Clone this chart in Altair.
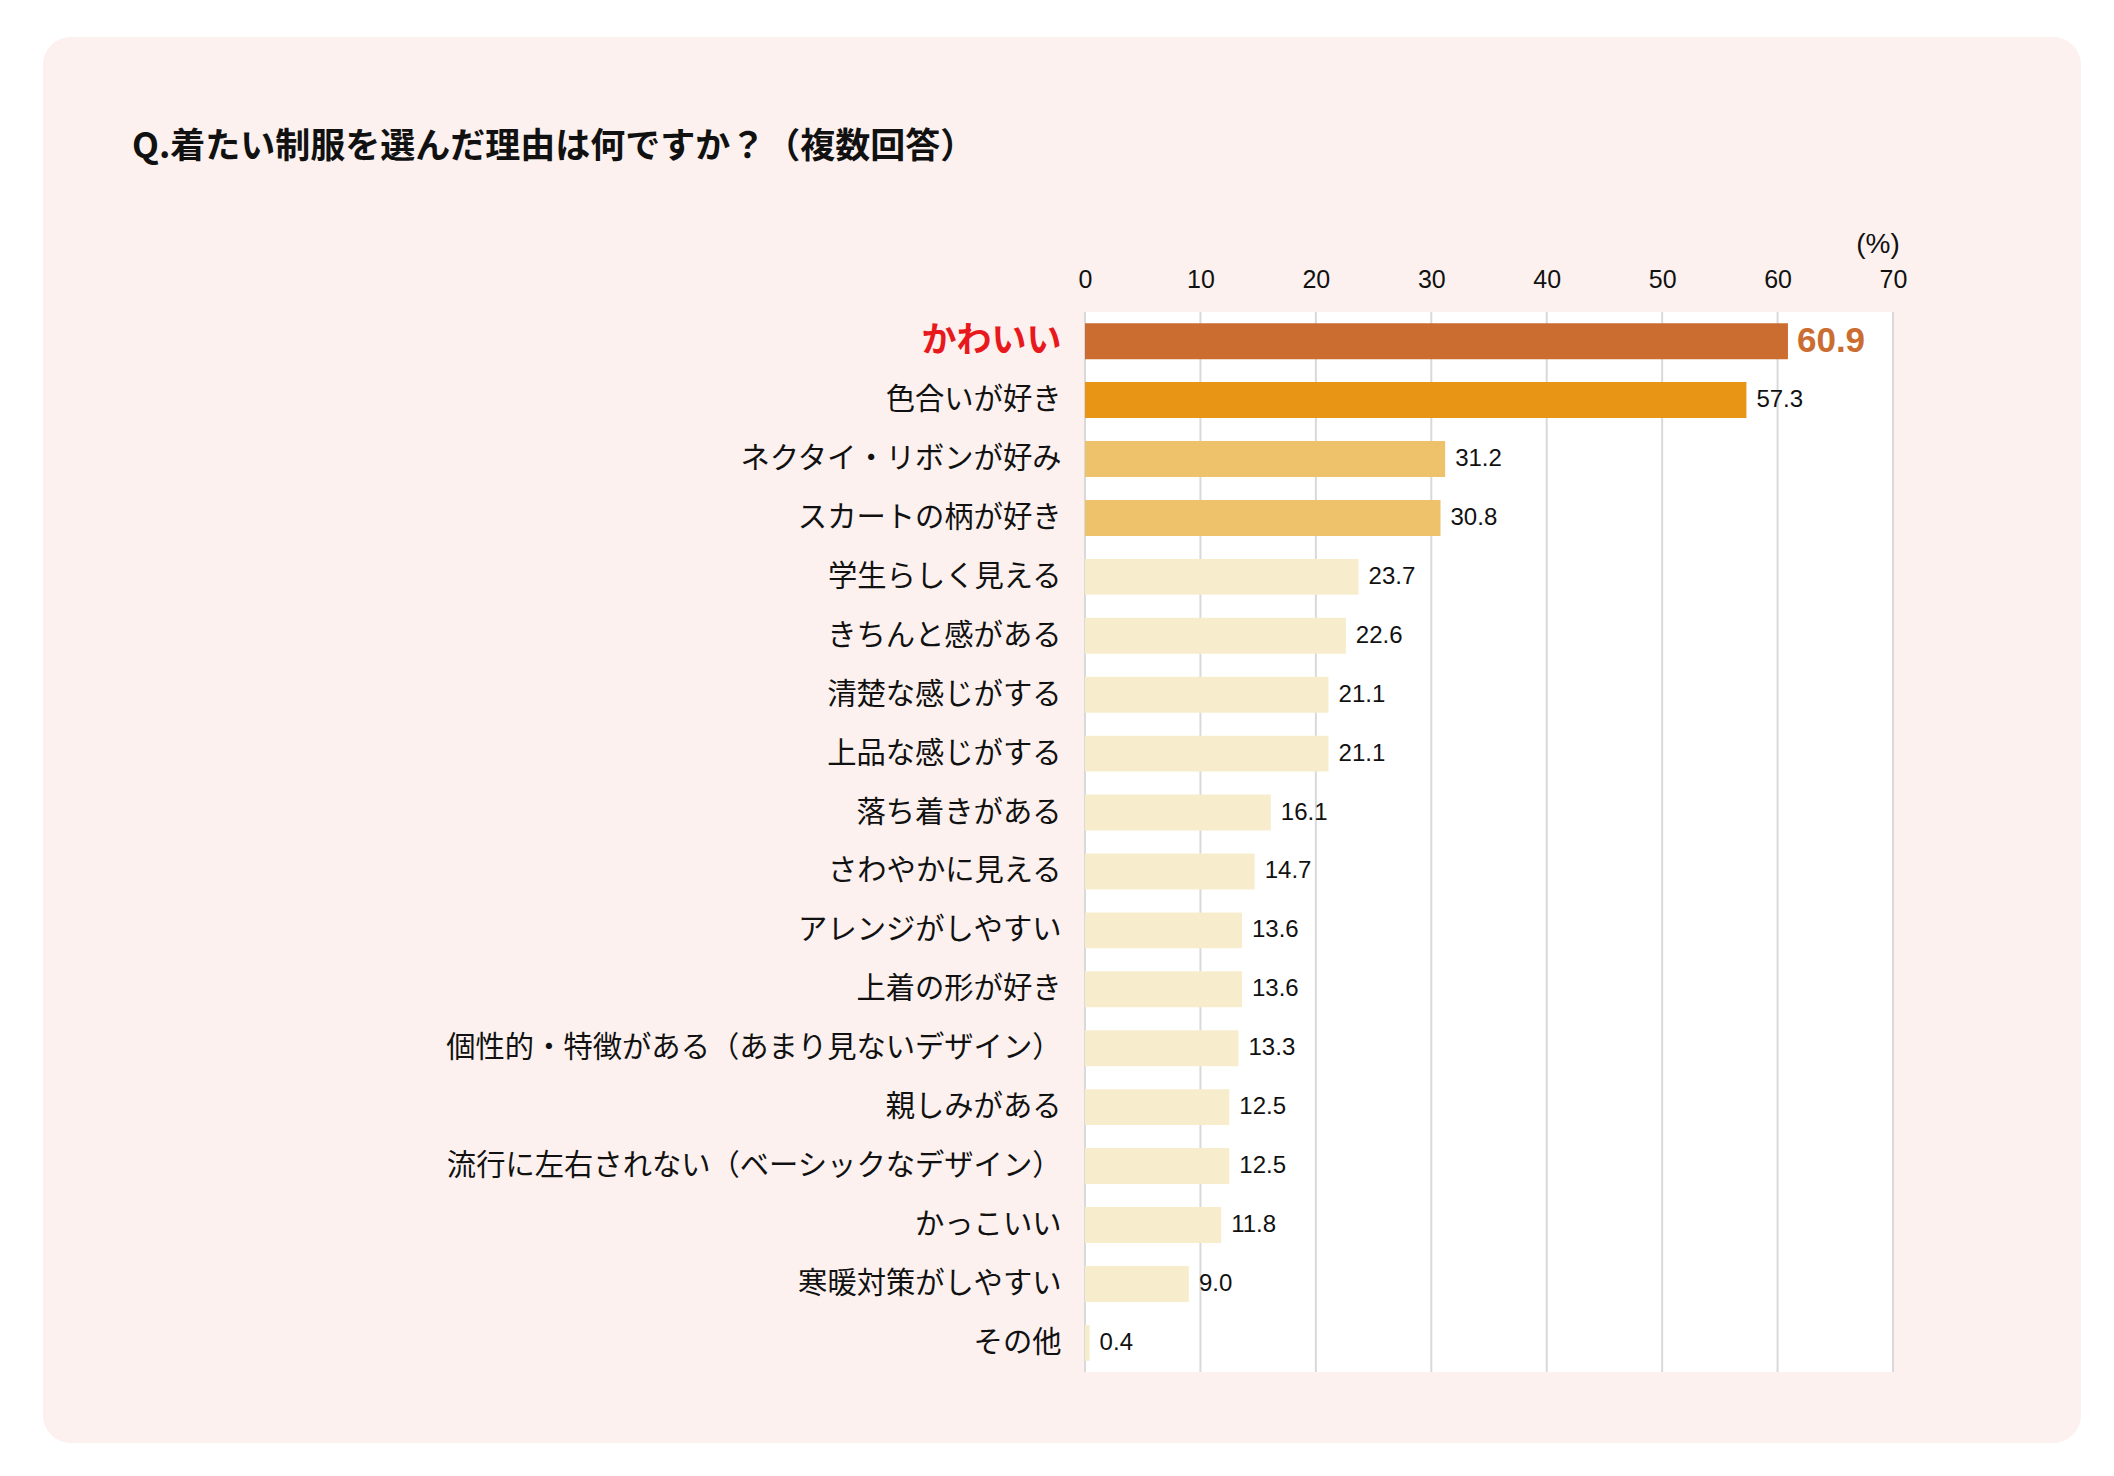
import altair as alt
import pandas as pd

# ---- data ----
categories = [
    "かわいい", "色合いが好き", "ネクタイ・リボンが好み", "スカートの柄が好き",
    "学生らしく見える", "きちんと感がある", "清楚な感じがする", "上品な感じがする",
    "落ち着きがある", "さわやかに見える", "アレンジがしやすい", "上着の形が好き",
    "個性的・特徴がある（あまり見ないデザイン）", "親しみがある",
    "流行に左右されない（ベーシックなデザイン）", "かっこいい", "寒暖対策がしやすい", "その他",
]
values = [60.9, 57.3, 31.2, 30.8, 23.7, 22.6, 21.1, 21.1, 16.1, 14.7,
          13.6, 13.6, 13.3, 12.5, 12.5, 11.8, 9.0, 0.4]
bar_colors = ["#CB6C30", "#E89516", "#EEC26B", "#EEC26B"] + ["#F7EDCC"] * 14
tick_values = [0, 10, 20, 30, 40, 50, 60, 70]
title_text = "Q.着たい制服を選んだ理由は何ですか？（複数回答）"
unit_text = "(%)"

# ---- layout (pixels) ----
W, H = 808, 1060
JP = "Noto Sans CJK JP"
NUM = "Liberation Sans"

df = pd.DataFrame({
    "cat": categories,
    "val": values,
    "color": bar_colors,
    "rank": list(range(len(categories))),
})
df["label"] = df["val"].map(lambda v: f"{v:.1f}")
ticks_df = pd.DataFrame({"t": tick_values})
one = pd.DataFrame({"k": [0]})

xscale = alt.Scale(domain=[0, 70], nice=False, zero=True)
yscale = alt.Scale(paddingInner=0.39, paddingOuter=0.19)

bg = alt.Chart(one).mark_rect(color="#FCF1EF", cornerRadius=28).encode(
    x=alt.value(-1042), x2=alt.value(996), y=alt.value(-275), y2=alt.value(1131)
)
plot_bg = alt.Chart(one).mark_rect(color="#FFFFFF").encode(
    x=alt.value(0), x2=alt.value(W), y=alt.value(0), y2=alt.value(H)
)
grid = alt.Chart(ticks_df).mark_rule(color="#D9D9D9", strokeWidth=2).encode(
    x=alt.X("t:Q", scale=xscale),
    y=alt.value(0), y2=alt.value(H),
)

y_enc = alt.Y(
    "cat:N", sort=categories, scale=yscale, title=None,
    axis=alt.Axis(
        labelFont=JP,
        labelFontSize=alt.ExprRef(expr="datum.value == 'かわいい' ? 35 : 29.3"),
        labelFontWeight=alt.ExprRef(expr="datum.value == 'かわいい' ? 'bold' : 'normal'"),
        labelColor=alt.ExprRef(expr="datum.value == 'かわいい' ? '#E8191C' : '#111111'"),
        labelPadding=24, labelLimit=1000, ticks=False, domain=False, grid=False,
        zindex=1,
    ),
)
x_enc = alt.X(
    "val:Q", scale=xscale, title=None,
    axis=alt.Axis(
        orient="top", values=tick_values, labelFont=NUM, labelFontSize=25,
        labelColor="#111111", labelBaseline="middle", labelPadding=33,
        labelFlush=False, labelOverlap=False,
        ticks=False, tickSize=0, domain=False, grid=False, zindex=1,
    ),
)

bars = alt.Chart(df).mark_bar().encode(
    x=x_enc, y=y_enc, color=alt.Color("color:N", scale=None)
)
labels = alt.Chart(df).transform_filter("datum.rank > 0").mark_text(
    align="left", baseline="middle", dx=10, font=NUM, fontSize=24, color="#111111"
).encode(x=alt.X("val:Q", scale=xscale), y=alt.Y("cat:N", sort=categories, scale=yscale), text="label:N")
top_label = alt.Chart(df).transform_filter("datum.rank == 0").mark_text(
    align="left", baseline="middle", dx=9, font=NUM, fontSize=35, fontWeight="bold",
    color="#CB6C30"
).encode(x=alt.X("val:Q", scale=xscale), y=alt.Y("cat:N", sort=categories, scale=yscale), text="label:N")

title = alt.Chart(one).mark_text(
    align="left", baseline="middle", font=JP, fontSize=35, fontWeight="bold", color="#111111",
    text=title_text,
).encode(x=alt.value(-953), y=alt.value(-165))
unit = alt.Chart(one).mark_text(
    align="center", baseline="middle", font=NUM, fontSize=28, color="#111111", text=unit_text,
    dx=-15,
).encode(x=alt.datum(70, scale=xscale), y=alt.value(-67))

chart = alt.layer(bg, plot_bg, grid, bars, labels, top_label, title, unit).properties(
    width=W, height=H,
    padding={"left": 35, "top": 29, "right": 5, "bottom": 5},
    background="#FFFFFF",
).configure_view(strokeWidth=0)

chart.save("out.html", embed_options={"renderer": "svg", "actions": False})
